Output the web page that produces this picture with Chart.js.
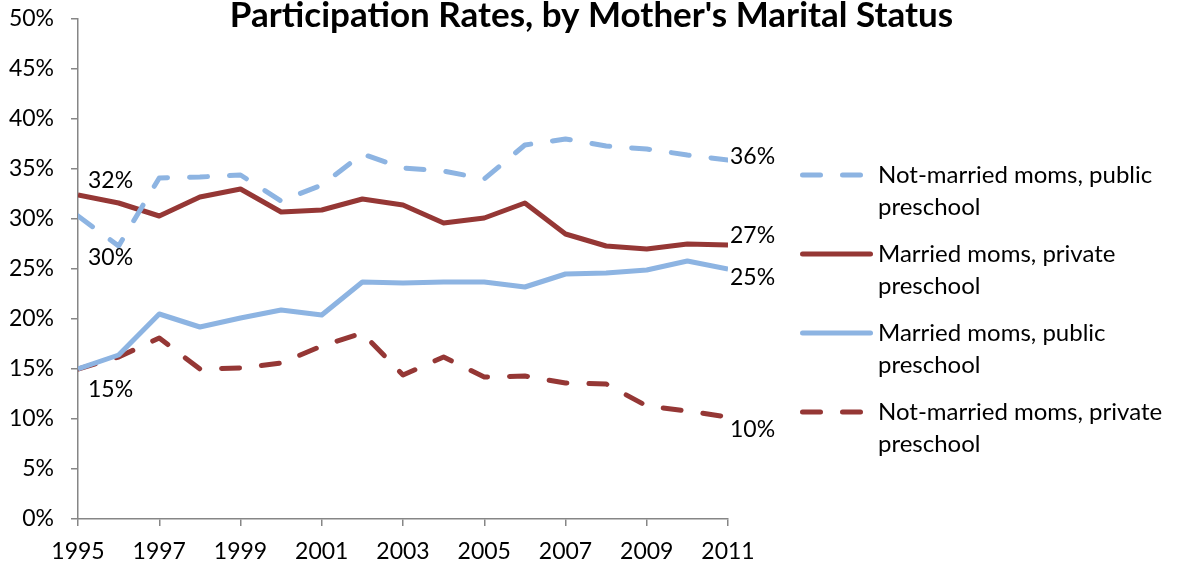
<!DOCTYPE html>
<html>
<head>
<meta charset="utf-8">
<script src="https://cdn.jsdelivr.net/npm/chart.js@4/dist/chart.umd.min.js"></script>
<style>
  html, body { margin: 0; padding: 0; background: #fff; }
  #wrap { width: 1183px; height: 568px; position: relative; }
</style>
</head>
<body>
<div id="wrap"><canvas id="chart"></canvas></div>
<script>
  "use strict";

  const chartTitle = "Participation Rates, by Mother's Marital Status";
  const years = [1995, 1996, 1997, 1998, 1999, 2000, 2001, 2002, 2003, 2004, 2005, 2006, 2007, 2008, 2009, 2010, 2011];
  const seriesNames = [
    'Not-married moms, public preschool',
    'Married moms, private preschool',
    'Married moms, public preschool',
    'Not-married moms, private preschool'
  ];
  const notMarriedPublic  = [30.3, 27.3, 34.1, 34.2, 34.4, 31.8, 33.4, 36.5, 35.1, 34.8, 34.0, 37.4, 38.0, 37.3, 37.0, 36.4, 35.9];
  const marriedPrivate    = [32.4, 31.6, 30.3, 32.2, 33.0, 30.7, 30.9, 32.0, 31.4, 29.6, 30.1, 31.6, 28.5, 27.3, 27.0, 27.5, 27.4];
  const marriedPublic     = [15.0, 16.4, 20.5, 19.2, 20.1, 20.9, 20.4, 23.7, 23.6, 23.7, 23.7, 23.2, 24.5, 24.6, 24.9, 25.8, 25.0];
  const notMarriedPrivate = [15.0, 16.2, 18.1, 15.0, 15.1, 15.6, 17.3, 18.6, 14.4, 16.2, 14.2, 14.3, 13.6, 13.5, 11.3, 10.8, 10.2];

  const lightBlue = '#8db4e2'
  const darkRed = '#953735'
  const axisGrey = '#868686'
  const fontFamily = 'Lato, "Open Sans", sans-serif'
  const textSize = 23

  // turn year list + values into {x,y} points for the linear x scale
  function toPoints(values) {
    return years.map((yr, i) => ({ x: yr, y: values[i] }))
  }

  function lineSet(label, values, color, dashed) {
    return {
      label: label,
      data: toPoints(values),
      borderColor: color,
      backgroundColor: color,
      borderWidth: 5,
      borderDash: dashed ? [18, 22] : [],
      borderCapStyle: dashed ? 'round' : 'butt',
      borderJoinStyle: 'round',
      pointRadius: 0,
      tension: 0,
      fill: false
    }
  }

  // scales should not reserve extra room for half labels, the plot box is fixed
  function noScalePadding(scale) {
    scale.paddingTop = 0
    scale.paddingBottom = 0
    scale.paddingLeft = 0
    scale.paddingRight = 0
  }

  // which points get a value label, and where the text sits next to the point
  const valueLabels = [
    { ds: 1, i: 0, dx: 10, dy: -14 },
    { ds: 0, i: 0, dx: 10, dy: 42 },
    { ds: 2, i: 0, dx: 10, dy: 21 },
    { ds: 0, i: 16, dx: 2, dy: -3 },
    { ds: 1, i: 16, dx: 2, dy: -9 },
    { ds: 2, i: 16, dx: 2, dy: 9 },
    { ds: 3, i: 16, dx: 2, dy: 13 }
  ]

  const extrasPlugin = {
    id: 'extras',
    afterDraw(chart) {
      const ctx = chart.ctx
      const area = chart.chartArea
      ctx.save()

      // title
      ctx.fillStyle = '#000'
      ctx.font = 'bold 35px ' + fontFamily
      ctx.textAlign = 'center'
      ctx.textBaseline = 'middle'
      ctx.fillText(chartTitle, chart.width / 2, 16)

      // value labels
      ctx.font = textSize + 'px ' + fontFamily
      ctx.textAlign = 'left'
      valueLabels.forEach(l => {
        const pt = chart.getDatasetMeta(l.ds).data[l.i]
        const v = chart.data.datasets[l.ds].data[l.i].y
        ctx.fillText(Math.round(v) + '%', pt.x + l.dx, pt.y + l.dy)
      })

      // legend, text wrapped to two lines
      ctx.font = '24px ' + fontFamily
      chart.data.datasets.forEach((ds, k) => {
        const y0 = area.top + 156 + k * 79
        ctx.beginPath()
        ctx.strokeStyle = ds.borderColor
        ctx.lineWidth = ds.borderWidth
        ctx.lineCap = 'round'
        ctx.setLineDash(ds.borderDash)
        ctx.moveTo(area.right + 74.5, y0)
        ctx.lineTo(area.right + 142.5, y0)
        ctx.stroke()
        ctx.setLineDash([])
        const cut = ds.label.lastIndexOf(' ')
        ctx.fillStyle = '#000'
        ctx.fillText(ds.label.slice(0, cut), area.right + 150, y0)
        ctx.fillText(ds.label.slice(cut + 1), area.right + 150, y0 + 32)
      })
      ctx.restore()
    }
  }

  new Chart(document.getElementById('chart'), {
    type: 'line',
    data: {
      datasets: [
        lineSet(seriesNames[0], notMarriedPublic, lightBlue, true),
        lineSet(seriesNames[1], marriedPrivate, darkRed, false),
        lineSet(seriesNames[2], marriedPublic, lightBlue, false),
        lineSet(seriesNames[3], notMarriedPrivate, darkRed, true)
      ]
    },
    options: {
      responsive: true,
      maintainAspectRatio: false,
      animation: false,
      layout: { padding: { top: 19, right: 455, bottom: 0, left: 0 } },
      plugins: {
        legend: { display: false },
        title: { display: false },
        tooltip: { enabled: false }
      },
      scales: {
        x: {
          type: 'linear',
          min: years[0],
          max: years[years.length - 1],
          afterFit(scale) { scale.height = 49; noScalePadding(scale) },
          grid: { drawOnChartArea: false, color: axisGrey, tickLength: 7, lineWidth: 1.5 },
          border: { color: axisGrey, width: 1.5 },
          ticks: {
            stepSize: 2,
            color: '#000',
            padding: 12,
            font: { family: fontFamily, size: textSize },
            callback: v => String(v)
          }
        },
        y: {
          min: 0,
          max: 50,
          afterFit(scale) { scale.width = 78; noScalePadding(scale) },
          grid: { drawOnChartArea: false, color: axisGrey, tickLength: 7, lineWidth: 1.5 },
          border: { color: axisGrey, width: 1.5 },
          ticks: {
            stepSize: 5,
            color: '#000',
            padding: 17,
            font: { family: fontFamily, size: textSize },
            callback: v => v + '%'
          }
        }
      }
    },
    plugins: [extrasPlugin]
  })
</script>
</body>
</html>
